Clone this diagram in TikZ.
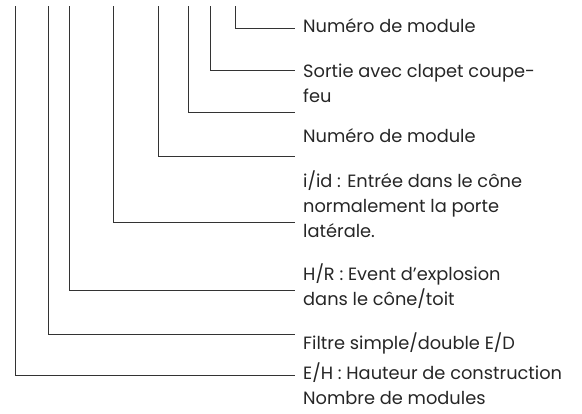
\documentclass[tikz,border=0pt]{standalone}
\usepackage{fontspec}
\setmainfont{Poppins}
\definecolor{linec}{HTML}{333333}
\definecolor{txtc}{HTML}{262626}
\tikzset{
  leader/.style={draw=linec, line width=0.9pt},
  lbl/.style={anchor=base west, inner sep=0pt, align=left, text=txtc,
    font=\fontsize{17.8}{25}\selectfont},
}
\begin{document}
\begin{tikzpicture}[x=1pt,y=-1pt]
\useasboundingbox (0,0) rectangle (582,414);
% top ends of leaders
\foreach \n/\x in {a/15,b/48,c/69,d/113,e/158,f/188,g/210,h/235}
  \coordinate (t\n) at (\x,6.5);
% right ends of leaders
\foreach \n/\y in {a/375.7,b/334.3,c/290.7,d/222.7,e/156,f/112,g/70.7,h/28.7}
  \coordinate (r\n) at (295,\y);
\foreach \n in {a,b,c,d,e,f,g,h}
  \draw[leader] (t\n) |- (r\n);
% labels (multi-line nodes are anchored at the baseline of their last line)
\node[lbl] (lh) at (303,32.5) {Numéro de module};
\node[lbl] (lg) at (303,102.5) {Sortie avec clapet coupe-\\feu};
\node[lbl] (lf) at (303,142.5) {Numéro de module};
\node[lbl] (le) at (303,238) {i/id : Entrée dans le cône\\normalement la porte\\latérale.};
\node[lbl] (ld) at (303,305.5) {H/R : Event d'explosion\\dans le cône/toit};
\node[lbl] (lc) at (303,350) {Filtre simple/double E/D};
\node[lbl] (lb) at (303,405) {E/H : Hauteur de construction\\Nombre de modules};
\end{tikzpicture}
\end{document}
